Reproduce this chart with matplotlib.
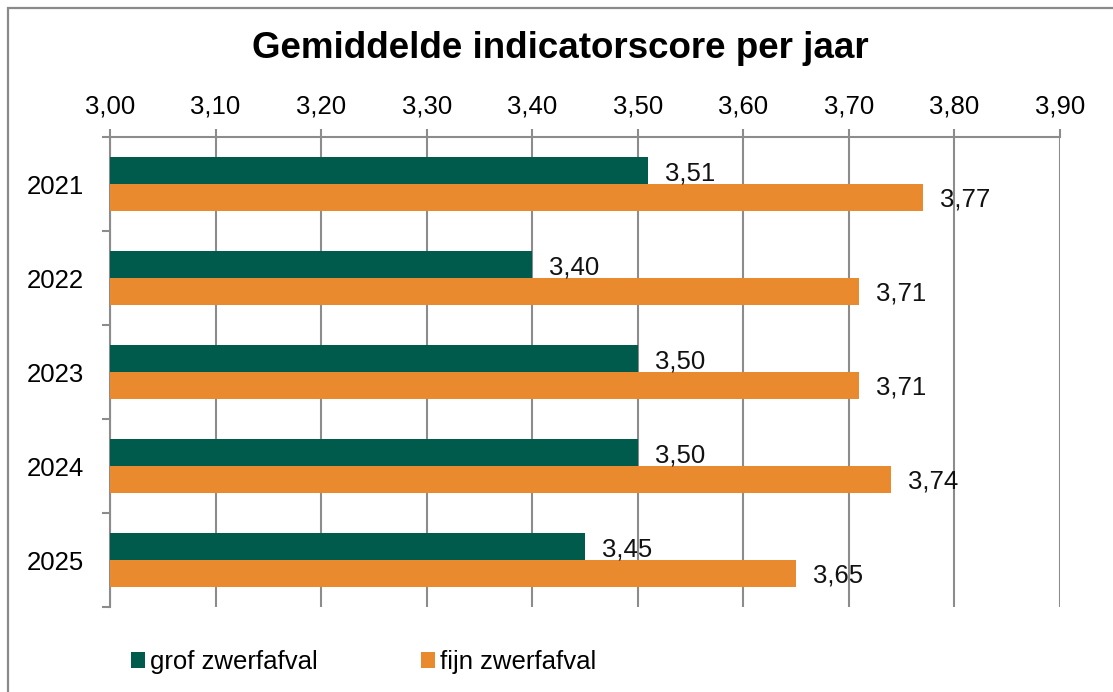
import matplotlib
matplotlib.use("Agg")
import matplotlib.pyplot as plt
import numpy as np
from matplotlib.patches import Rectangle, Patch

plt.rcParams['font.family'] = ['Liberation Sans', 'DejaVu Sans']

years = ['2021', '2022', '2023', '2024', '2025']
grof = [3.51, 3.40, 3.50, 3.50, 3.45]
fijn = [3.77, 3.71, 3.71, 3.74, 3.65]
series_names = ['grof zwerfafval', 'fijn zwerfafval']
xticks = [3.00, 3.10, 3.20, 3.30, 3.40, 3.50, 3.60, 3.70, 3.80, 3.90]
title = 'Gemiddelde indicatorscore per jaar'

green = '#005B4C'
orange = '#EA8A2F'
grid_c = '#8C8C8C'

W, H = 1113, 692
fig = plt.figure(figsize=(W/100, H/100), dpi=100)
# outer frame
fig.patches.append(Rectangle((8/W, -0.1), 1.2, (H-8)/H + 0.1, transform=fig.transFigure,
                             fill=False, edgecolor='#8A8A8A', linewidth=1.6))

ax = fig.add_axes([110/W, 85/H, 950/W, 470/H])
y = np.arange(len(years))
h = 0.28
x0 = 3.0
bg = ax.barh(y - 0.142, np.array(grof) - x0, left=x0, height=h, color=green, zorder=3)
bf = ax.barh(y + 0.142, np.array(fijn) - x0, left=x0, height=h, color=orange, zorder=3)

def fmt(v):
    return f'{v:.2f}'.replace('.', ',')

for bars, vals in ((bg, grof), (bf, fijn)):
    for b, v in zip(bars, vals):
        ax.text(v + 0.016, b.get_y() + b.get_height()/2 + 0.025, fmt(v), va='center', ha='left',
                fontsize=18.5, color='#111111', zorder=4)

ax.set_xlim(3.0, 3.9)
ax.set_ylim(4.5, -0.5)
ax.set_xticks(xticks)
ax.set_xticklabels([fmt(v) for v in xticks], fontsize=18.5)
ax.xaxis.tick_top()
ax.tick_params(axis='x', which='major', direction='out', length=5.5, width=1.5, color=grid_c, pad=7.5)
ax.set_yticks(y)
ax.set_yticklabels(years, fontsize=18.5)
ax.set_yticks(np.arange(-0.5, len(years), 1.0), minor=True)
ax.tick_params(axis='y', which='major', length=0, pad=19)
ax.tick_params(axis='y', which='minor', direction='out', length=5.5, width=1.5, color=grid_c)
ax.grid(axis='x', color=grid_c, linewidth=1.5, zorder=0)
ax.set_axisbelow(True)
for s in ('right', 'bottom'):
    ax.spines[s].set_visible(False)
for s in ('left', 'top'):
    ax.spines[s].set_color(grid_c)
    ax.spines[s].set_linewidth(1.5)

fig.text(560/W, 1 - 49/H, title, ha='center', va='center', fontsize=26.5, fontweight='bold')

handles = [Patch(facecolor=green), Patch(facecolor=orange)]
fig.legend(handles, series_names, loc='center left', bbox_to_anchor=(131/W, 1 - 662/H),
           ncol=2, frameon=False, fontsize=18.5, handlelength=0.55, handleheight=0.55,
           handletextpad=0.2, columnspacing=4.0, borderpad=0, borderaxespad=0)

fig.savefig('out.png', dpi=100)
